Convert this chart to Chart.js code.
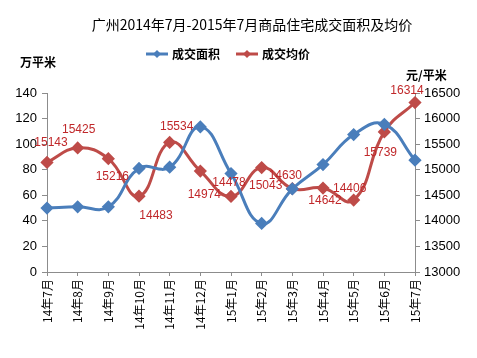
<!DOCTYPE html>
<html>
<head>
<meta charset="utf-8">
<script src="https://cdn.jsdelivr.net/npm/chart.js@4"></script>
<style>
  html, body { margin: 0; padding: 0; background: #fff; }
  #wrap { width: 477px; height: 358px; position: relative; }
</style>
</head>
<body>
<div id="wrap"><canvas id="c"></canvas></div>
<script>
const months = ['14年7月','14年8月','14年9月','14年10月','14年11月','14年12月','15年1月','15年2月','15年3月','15年4月','15年5月','15年6月','15年7月'];
const area = [50, 51, 51, 81, 82, 113.5, 77, 38, 65, 84, 107.5, 115.5, 87.5];   // 万平米
const price = [15143, 15425, 15216, 14483, 15534, 14974, 14478, 15043, 14630, 14642, 14406, 15739, 16314]; // 元/平米

// where each price label sits relative to its point (dx, dy)
const labelShift = [[4,-20],[1,-18],[4,18],[17,20],[7,-16],[4,24],[-2,-14],[4,18],[-7,-13],[2,13],[-4,-11],[-4,21],[-8,-12]];

const BLUE = '#4a7ebb';
const RED = '#be4b48';
const txtFont = "'Liberation Sans', Arial, 'Noto Sans CJK SC', sans-serif";
const cjkFont = "'Noto Sans CJK SC', 'Liberation Sans', sans-serif";

const decor = {
  id: 'decor',
  afterDatasetsDraw(chart) {
    const ctx = chart.ctx;
    ctx.save();
    // title
    ctx.fillStyle = '#000';
    ctx.font = "14px " + cjkFont;
    ctx.textAlign = 'center';
    ctx.textBaseline = 'middle';
    ctx.fillText('广州2014年7月-2015年7月商品住宅成交面积及均价', 252, 25);

    // legend
    const items = [['成交面积', BLUE, 146], ['成交均价', RED, 236]];
    items.forEach(([name, col, x]) => {
      ctx.strokeStyle = col;
      ctx.fillStyle = col;
      ctx.lineWidth = 3;
      ctx.beginPath(); ctx.moveTo(x, 54); ctx.lineTo(x + 22, 54); ctx.stroke();
      ctx.beginPath();
      ctx.moveTo(x + 11, 50); ctx.lineTo(x + 15, 54); ctx.lineTo(x + 11, 58); ctx.lineTo(x + 7, 54);
      ctx.closePath(); ctx.fill();
      ctx.fillStyle = '#000';
      ctx.font = "bold 12px " + cjkFont;
      ctx.textAlign = 'left';
      ctx.fillText(name, x + 26, 54);
    });

    // axis units
    ctx.font = "bold 12px " + cjkFont;
    ctx.textAlign = 'left';
    ctx.fillText('万平米', 20, 62);
    ctx.fillText('元/平米', 406, 75);

    // price labels
    const meta = chart.getDatasetMeta(1);
    ctx.fillStyle = '#c0282a';
    ctx.font = "12px " + txtFont;
    ctx.textAlign = 'center';
    meta.data.forEach((pt, i) => {
      ctx.fillText(String(price[i]), pt.x + labelShift[i][0], pt.y + labelShift[i][1]);
    });
    ctx.restore();
  }
};

const axisGrid = { drawOnChartArea: false, drawTicks: true, tickLength: 5, color: '#8c8c8c' };
const axisBorder = { display: true, color: '#8c8c8c', width: 1 };

new Chart('c', {
  type: 'line',
  data: {
    labels: months,
    datasets: [
      {
        label: '成交面积', data: area, yAxisID: 'y',
        borderColor: BLUE, backgroundColor: BLUE, borderWidth: 3,
        pointStyle: 'rectRot', pointRadius: 4.5, tension: 0.45
      },
      {
        label: '成交均价', data: price, yAxisID: 'y1',
        borderColor: RED, backgroundColor: RED, borderWidth: 3,
        pointStyle: 'rectRot', pointRadius: 4.5, tension: 0.45
      }
    ]
  },
  options: {
    responsive: true,
    maintainAspectRatio: false,
    animation: false,
    layout: { padding: { top: 93, left: 0, right: 0, bottom: 0 } },
    plugins: { legend: { display: false }, title: { display: false }, tooltip: { enabled: false } },
    scales: {
      x: {
        offset: false,
        grid: { ...axisGrid, tickLength: 4 },
        border: axisBorder,
        ticks: { autoSkip: false, minRotation: 90, maxRotation: 90, padding: 3, color: '#000', font: { size: 12, family: cjkFont } },
        afterFit(s) { s.height = 86; }
      },
      y: {
        position: 'left', min: 0, max: 140,
        grid: axisGrid, border: axisBorder,
        ticks: { stepSize: 20, padding: 5, color: '#000', font: { size: 13, family: txtFont } },
        afterFit(s) { s.width = 47; }
      },
      y1: {
        position: 'right', min: 13000, max: 16500,
        grid: axisGrid, border: axisBorder,
        ticks: { stepSize: 500, padding: 4, color: '#000', font: { size: 13, family: txtFont }, callback: v => String(v) },
        afterFit(s) { s.width = 62; }
      }
    }
  },
  plugins: [decor]
});
</script>
</body>
</html>
